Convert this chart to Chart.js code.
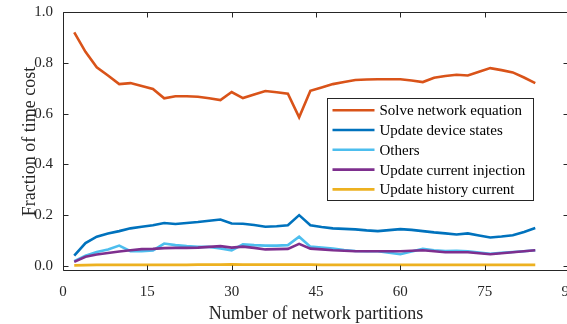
<!DOCTYPE html>
<html>
<head>
<meta charset="utf-8">
<script src="https://cdn.jsdelivr.net/npm/chart.js@4"></script>
<style>
html, body { margin: 0; padding: 0; width: 567px; height: 324px; overflow: hidden; background: #fff; }
#wrap { width: 580px; height: 330px; }
</style>
</head>
<body>
<div id="wrap"><canvas id="c" width="580" height="330"></canvas></div>
<script>
const partitions = [2,4,6,8,10,12,14,16,18,20,22,24,26,28,30,32,34,36,38,40,42,44,46,48,50,52,54,56,58,60,62,64,66,68,70,72,74,76,78,80,82,84];
const solveNetwork = [0.920,0.843,0.782,0.750,0.716,0.720,0.709,0.697,0.660,0.668,0.668,0.666,0.660,0.653,0.685,0.661,0.675,0.689,0.684,0.678,0.585,0.690,0.703,0.716,0.724,0.732,0.734,0.735,0.735,0.735,0.730,0.724,0.741,0.748,0.753,0.750,0.765,0.779,0.771,0.762,0.742,0.720];
const updateDevice = [0.041,0.090,0.115,0.128,0.137,0.148,0.154,0.160,0.169,0.165,0.169,0.173,0.178,0.183,0.167,0.166,0.161,0.154,0.156,0.160,0.200,0.160,0.153,0.148,0.146,0.144,0.140,0.137,0.141,0.145,0.142,0.137,0.132,0.128,0.124,0.128,0.120,0.112,0.116,0.121,0.134,0.149];
const others = [0.019,0.040,0.055,0.065,0.080,0.058,0.058,0.061,0.088,0.082,0.078,0.075,0.075,0.069,0.061,0.085,0.082,0.080,0.080,0.082,0.115,0.076,0.072,0.068,0.063,0.059,0.058,0.058,0.052,0.046,0.057,0.067,0.062,0.059,0.060,0.058,0.053,0.048,0.052,0.055,0.058,0.062];
const updateInjection = [0.016,0.036,0.045,0.051,0.057,0.062,0.066,0.067,0.070,0.071,0.071,0.072,0.075,0.078,0.072,0.076,0.071,0.065,0.066,0.067,0.087,0.068,0.065,0.062,0.060,0.058,0.058,0.058,0.058,0.058,0.060,0.062,0.058,0.054,0.054,0.054,0.050,0.046,0.050,0.054,0.058,0.062];
const updateHistory = [0.002,0.003,0.004,0.004,0.004,0.004,0.004,0.004,0.004,0.004,0.004,0.005,0.005,0.005,0.006,0.005,0.005,0.005,0.005,0.005,0.005,0.005,0.004,0.004,0.004,0.004,0.004,0.004,0.004,0.004,0.004,0.004,0.004,0.004,0.004,0.004,0.004,0.004,0.004,0.004,0.004,0.004];
const seriesNames = ['Solve network equation','Update device states','Others','Update current injection','Update history current'];
const seriesColors = ['#D95319','#0072BD','#4DBEEE','#7E2F8E','#EDB120'];
const xTicks = [0,15,30,45,60,75,90];
const yTicks = [0,0.2,0.4,0.6,0.8,1.0];

const serif = "'Times New Roman', 'Liberation Serif', serif";
const axisColor = '#262626';
const allSeries = [solveNetwork, updateDevice, others, updateInjection, updateHistory];

const datasets = allSeries.map((vals, i) => ({
  label: seriesNames[i],
  data: partitions.map((p, j) => ({x: p, y: vals[j]})),
  borderColor: seriesColors[i],
  backgroundColor: seriesColors[i],
  borderWidth: 2.6,
  pointRadius: 0,
  tension: 0,
  fill: false,
  order: allSeries.length - i
}));

const framePlugin = {
  id: 'frame',
  afterDatasetsDraw(chart) {
    const {ctx, chartArea: a, scales: {x, y}} = chart;
    ctx.save();
    ctx.strokeStyle = axisColor;
    ctx.lineWidth = 1;
    const L = Math.round(a.left) + 0.5, R = Math.round(a.right) - 0.5;
    const T = Math.round(a.top) + 0.5, B = Math.round(a.bottom) - 0.5;
    ctx.beginPath();
    ctx.rect(L, T, R - L, B - T);
    const tl = 5;
    xTicks.forEach(v => {
      const px = Math.round(x.getPixelForValue(v)) + 0.5;
      ctx.moveTo(px, B); ctx.lineTo(px, B - tl);
      ctx.moveTo(px, T); ctx.lineTo(px, T + tl);
    });
    yTicks.forEach(v => {
      const py = Math.round(y.getPixelForValue(v)) + 0.5;
      ctx.moveTo(L, py); ctx.lineTo(L + tl, py);
      ctx.moveTo(R, py); ctx.lineTo(R - tl, py);
    });
    ctx.stroke();
    ctx.restore();
  },
  afterDraw(chart) {
    const {ctx, chartArea: a} = chart;
    const bx = a.left + 264.5, by = a.top + 86.5, bw = 206, bh = 102;
    ctx.save();
    ctx.fillStyle = '#ffffff';
    ctx.fillRect(bx, by, bw, bh);
    ctx.strokeStyle = axisColor;
    ctx.lineWidth = 1;
    ctx.strokeRect(bx, by, bw, bh);
    ctx.font = '15px ' + serif;
    ctx.textBaseline = 'middle';
    ctx.fillStyle = '#000000';
    chart.data.datasets.forEach((ds, i) => {
      const cy = by + 11.7 + i * 19.8;
      ctx.strokeStyle = ds.borderColor;
      ctx.lineWidth = 2.6;
      ctx.beginPath();
      ctx.moveTo(bx + 5, cy);
      ctx.lineTo(bx + 47, cy);
      ctx.stroke();
      ctx.fillText(ds.label, bx + 52, cy + 1);
    });
    ctx.restore();
  }
};

new Chart(document.getElementById('c'), {
  type: 'line',
  data: { datasets },
  options: {
    responsive: false,
    animation: false,
    devicePixelRatio: 1,
    layout: { padding: { top: 12, right: 11, left: 0, bottom: 0 } },
    plugins: { legend: { display: false }, tooltip: { enabled: false } },
    scales: {
      x: {
        type: 'linear',
        min: 0, max: 90,
        afterBuildTicks: axis => { axis.ticks = xTicks.map(v => ({value: v})); },
        afterFit: scale => { scale.height = 59; scale.paddingLeft = 0; scale.paddingRight = 0; },
        grid: { display: true, drawOnChartArea: false, drawTicks: false },
        border: { display: false },
        ticks: { color: axisColor, font: { family: serif, size: 15 }, padding: 12, maxRotation: 0, callback: v => String(v) },
        title: { display: true, text: 'Number of network partitions', color: axisColor, font: { family: serif, size: 18 }, padding: { top: 0, bottom: 5 } }
      },
      y: {
        type: 'linear',
        min: -0.02, max: 1.0,
        afterBuildTicks: axis => { axis.ticks = yTicks.map(v => ({value: v})); },
        afterFit: scale => { scale.width = 63; scale.paddingTop = 0; scale.paddingBottom = 0; },
        grid: { display: true, drawOnChartArea: false, drawTicks: false },
        border: { display: false },
        ticks: { color: axisColor, font: { family: serif, size: 15 }, padding: 10, callback: v => v.toFixed(1) },
        title: { display: true, text: 'Fraction of time cost', color: axisColor, font: { family: serif, size: 18 }, padding: { top: 19, bottom: 0 } }
      }
    }
  },
  plugins: [framePlugin]
});
</script>
</body>
</html>
